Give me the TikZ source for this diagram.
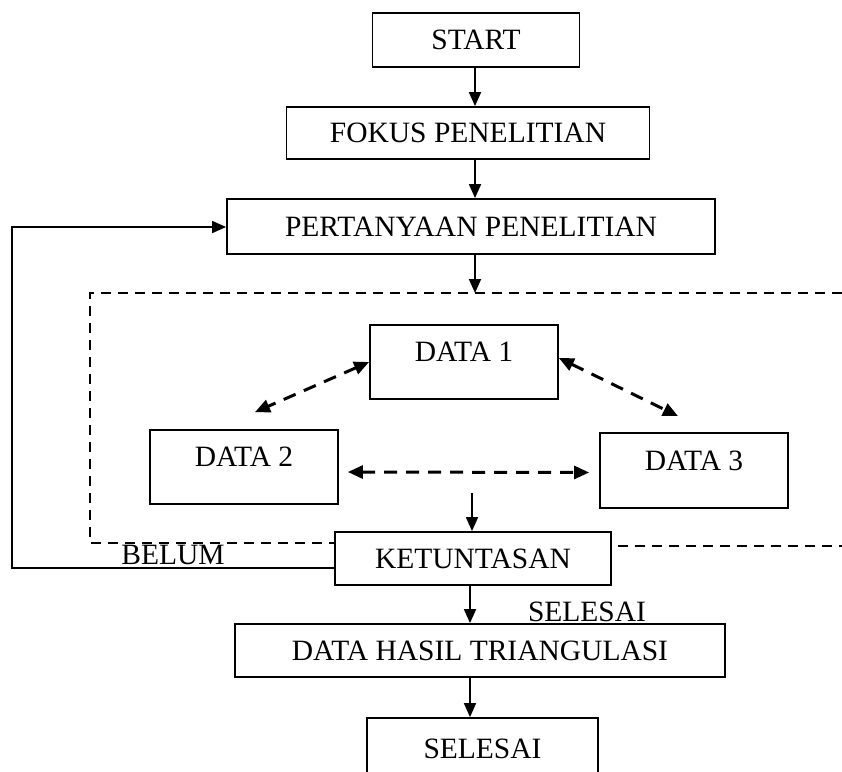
\documentclass[tikz,border=0pt]{standalone}
\usepackage{fontspec}
\setmainfont{Liberation Serif}
\usetikzlibrary{arrows.meta,calc}
\tikzset{
  box/.style={draw=black,line width=1.8pt,rectangle,inner sep=0pt,font=\fontsize{29.5}{34}\selectfont},
  txt/.style={inner sep=0pt,font=\fontsize{29.5}{34}\selectfont},
  flow/.style={line width=1.8pt,-{Triangle[length=14pt,width=12pt]}},
  dbl/.style={line width=3pt,dash pattern=on 13pt off 9pt,{Triangle[length=15pt,width=13pt]}-{Triangle[length=15pt,width=13pt]}},
  region/.style={line width=1.8pt,dash pattern=on 10pt off 7pt}
}
\begin{document}
\begin{tikzpicture}[x=1pt,y=-1pt]
\clip (0,0) rectangle (842,771);
\fill[white] (0,0) rectangle (842,771);
% boxes
\node[box,minimum width=207pt,minimum height=54pt] (start) at (476,40) {START};
\node[box,minimum width=363pt,minimum height=52pt] (fokus) at (468,133) {FOKUS PENELITIAN};
\node[box,minimum width=488pt,minimum height=55pt] (tanya) at (471,226.5) {PERTANYAAN PENELITIAN};
\node[box,minimum width=188pt,minimum height=74pt] (data1) at (464,362) {};
\node[txt] (t1) at ($(data1.center)+(0,-10)$) {DATA 1};
\node[box,minimum width=188pt,minimum height=74pt] (data2) at (244,467) {};
\node[txt] (t2) at ($(data2.center)+(0,-10)$) {DATA 2};
\node[box,minimum width=188pt,minimum height=75pt] (data3) at (694,470.5) {};
\node[txt] (t3) at ($(data3.center)+(0,-10)$) {DATA 3};
\node[box,minimum width=276pt,minimum height=53pt] (ketu) at (473,558.5) {KETUNTASAN};
\node[box,minimum width=490pt,minimum height=53pt] (hasil) at (480,650.5) {DATA HASIL TRIANGULASI};
\node[box,minimum width=231pt,minimum height=62pt] (selesai) at (482.5,749) {SELESAI};
% labels
\node[txt] (belum) at (173,555) {BELUM};
\node[txt] (lblselesai) at (587,612) {SELESAI};
% dashed region
\coordinate (rtop) at (475,293);
\draw[region] (842,293) -- (90,293) -- (90,543) -- (ketu.west |- 0,543);
\draw[region] (618,546) -- (842,546);
% flow arrows
\draw[flow] (start.south -| 475,0) -- (fokus.north -| 475,0);
\draw[flow] (fokus.south -| 475,0) -- (tanya.north -| 475,0);
\draw[flow] (tanya.south -| 475,0) -- (rtop);
\coordinate (kin) at (472,493);
\draw[flow] (kin) -- (ketu.north -| kin);
\draw[flow] (ketu.south -| 470,0) -- (hasil.north -| 470,0);
\draw[flow] (hasil.south -| 470,0) -- (selesai.north -| 470,0);
\draw[flow] (ketu.west |- 0,568) -- (12,568) -- (12,227) -- (tanya.west |- 0,227);
% dashed double arrows
\draw[dbl] ($(data1.west)+(0,0)$) -- ($(data2.north)+(11,-17)$);
\draw[dbl] ($(data1.east)+(0,-4)$) -- ($(data3.north)+(-16,-16)$);
\draw[dbl] ($(data2.east)+(9,5)$) -- ($(data3.west)+(-10,2)$);
\end{tikzpicture}
\end{document}
